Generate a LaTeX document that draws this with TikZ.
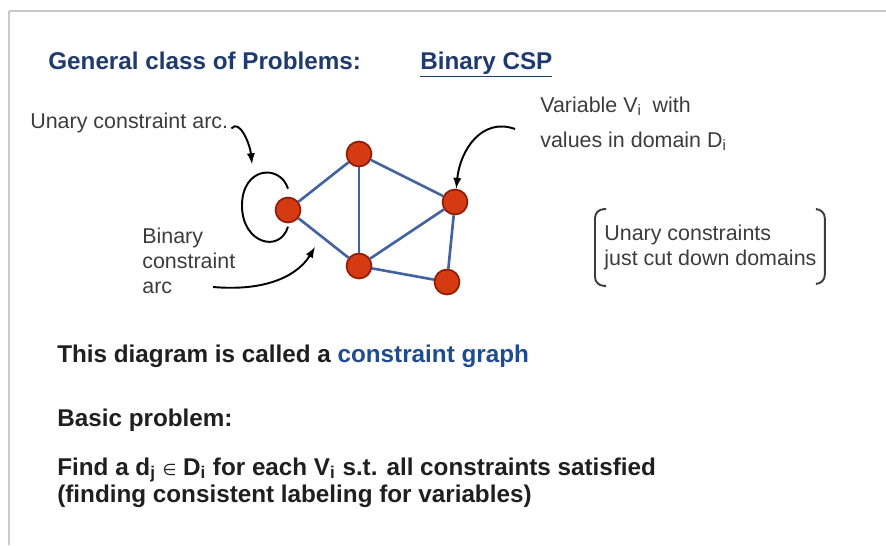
\documentclass[tikz,border=0pt]{standalone}
\usepackage{fontspec}
\setmainfont{Liberation Sans}
\newfontfamily\symfont{DejaVu Sans}
\definecolor{titleblue}{HTML}{1F3A6E}
\definecolor{graphblue}{HTML}{1F4C8F}
\definecolor{edgeblue}{HTML}{4262A2}
\definecolor{nodered}{HTML}{D63A12}
\definecolor{noderim}{HTML}{8E1E06}
\definecolor{labelgray}{HTML}{3C3C3C}
\definecolor{framegray}{HTML}{C8C8C8}

\begin{document}
\begin{tikzpicture}[
    x=0.02cm, y=-0.02cm,
    big/.style={font=\fontsize{13.8}{16}\selectfont\bfseries, text=black!88,
                inner sep=0pt, anchor=base west},
    lbl/.style={font=\fontsize{12.2}{14.2}\selectfont, text=labelgray,
                inner sep=0pt, anchor=base west, align=left},
    var/.style={circle, draw=noderim, fill=nodered, line width=1pt,
                minimum size=0.5cm, inner sep=0pt},
    cedge/.style={draw=edgeblue, line width=1.5pt},
    ptr/.style={->, >=latex, line width=1.1pt},
    loopln/.style={line width=1.1pt},
    brk/.style={draw=labelgray, line width=1.1pt, rounded corners=5pt}
]
  \useasboundingbox (0,0) rectangle (886,545);

  % ================= frame =================
  \draw[framegray, line width=1.2pt] (9,545) -- (9,11);
  \draw[framegray, line width=0.7pt] (9,11) -- (886,11);

  % ================= heading =================
  \node[big, text=titleblue] (title) at (48,69) {General class of Problems:};
  \node[big, text=titleblue] (csp)   at (420,69) {\underline{Binary CSP}};

  % ================= constraint graph =================
  \node[var] (v1) at (288,210) {};
  \node[var] (v2) at (359,154) {};
  \node[var] (v3) at (455,202) {};
  \node[var] (v4) at (359,266) {};
  \node[var] (v5) at (447,282) {};
  \foreach \a/\b in {v1/v2, v1/v4, v2/v4, v2/v3, v3/v4, v4/v5, v3/v5}
    \draw[cedge] (\a) -- (\b);

  % unary constraint arc (loop round v1)
  \coordinate (loopa) at ([shift={(0,-8)}]v1.north);
  \draw[loopln] (loopa) .. controls +(-8,-25) and +(0,-39) .. ++(-46,17)
                        .. controls +(0,38) and +(-8,27) .. ++(46,21);

  % ================= labels and pointers =================
  % (base of a multi-line label = its last line)
  \node[lbl] (unarylbl) at (30,128) {Unary constraint arc.};
  \coordinate (looptip) at (252,164);
  \draw[ptr] ([shift={(3,6)}]unarylbl.east) .. controls +(8,-10) and +(-2,-20) .. (looptip);

  \node[lbl] (binlbl) at (142,293) {Binary\\constraint\\arc};
  \coordinate (binstart) at (213,287);
  \coordinate (bintip) at (315,247);
  \draw[ptr] (binstart) .. controls (272,292) and (300,272) .. (bintip);

  \node[lbl] (varlbl) at (540,147)
    {Variable V\textsubscript{i}\enspace with\\[5.6pt]values in domain D\textsubscript{i}};
  \coordinate (varptr) at (515,129);
  \draw[ptr] (varptr) .. controls (482,117) and (460,150) .. (v3);

  % bracketed note
  \node[lbl] (unarynote) at (604,265) {Unary constraints\\just cut down domains};
  \draw[brk] ([shift={(2,-15)}]unarynote.north west) -| ([shift={(-9,16)}]unarynote.south west) -- ++(11,0);
  \draw[brk] ([shift={(0,-15)}]unarynote.north east) -| ([shift={(8,14)}]unarynote.south east) -- ++(-8,0);

  % ================= problem statement =================
  \node[big] (diag)    at (57,362) {This diagram is called a \textcolor{graphblue}{constraint graph}};
  \node[big] (basic)   at (57,426) {Basic problem:};
  \node[big] (find)    at (57,475)
    {Find a d\textsubscript{j} {\symfont\mdseries\fontsize{9}{10}\selectfont ∈} D\textsubscript{i} for each V\textsubscript{i} s.t. all constraints satisfied};
  \node[big] (finding) at (57,502) {(finding consistent labeling for variables)};

\end{tikzpicture}
\end{document}
